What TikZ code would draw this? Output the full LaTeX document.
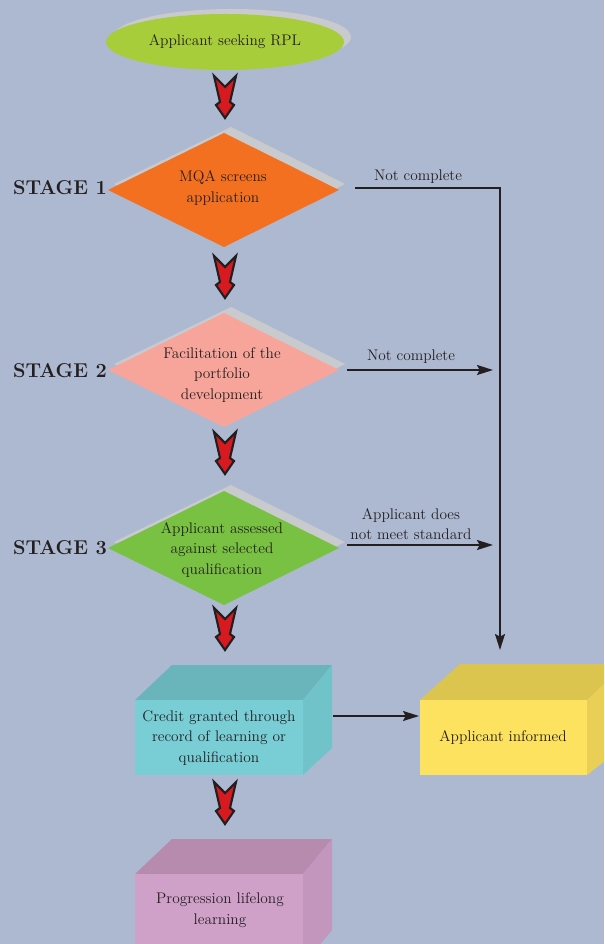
\documentclass[tikz,border=0pt]{standalone}
\usetikzlibrary{arrows.meta}

\definecolor{bgblue}{RGB}{173,185,209}
\definecolor{shadowgray}{RGB}{200,202,205}
\definecolor{ink}{RGB}{35,31,32}
\definecolor{limegreen}{RGB}{168,205,58}
\definecolor{mqaorange}{RGB}{244,112,33}
\definecolor{salmon}{RGB}{247,165,154}
\definecolor{leafgreen}{RGB}{121,193,66}
\definecolor{arrowred}{RGB}{215,25,32}
\definecolor{cyanfront}{RGB}{121,206,213}
\definecolor{cyantop}{RGB}{105,181,187}
\definecolor{cyanside}{RGB}{112,195,201}
\definecolor{yelfront}{RGB}{252,226,95}
\definecolor{yeltop}{RGB}{220,197,79}
\definecolor{yelside}{RGB}{233,207,85}
\definecolor{mauvefront}{RGB}{207,161,201}
\definecolor{mauvetop}{RGB}{183,139,174}
\definecolor{mauveside}{RGB}{194,150,189}

\tikzset{every picture/.style={line width=0.75pt}}
\tikzset{
  txt/.style={text=ink, font=\fontsize{11.5}{15.4}\selectfont, align=center, inner sep=0pt},
  stagelbl/.style={text=ink, font=\fontsize{15}{17}\selectfont\bfseries, inner sep=0pt},
  flow/.style={draw=ink, line width=1.3pt, -{Stealth[length=12pt,width=7.5pt,inset=2pt]}}
}

\begin{document}
\begin{tikzpicture}[x=0.75pt,y=0.75pt,yscale=-1,xscale=1]
	\useasboundingbox (0,0) rectangle (604,944);
	\clip (0,0) rectangle (604,944);
	\fill[bgblue] (0,0) rectangle (604,944);

	%Ellipse with shadow
	\fill[shadowgray] (232,37) ellipse (119 and 28);
	\fill[limegreen] (225,42) ellipse (119 and 28);

	%Diamonds with shadows
	\foreach \cy/\col in {190/mqaorange, 370/salmon, 548/leafgreen}{
		\fill[shadowgray] (231,\cy-63) -- (345,\cy-6) -- (231,\cy+51) -- (114,\cy-6) -- cycle;
		\fill[\col] (224,\cy-57) -- (339,\cy) -- (224,\cy+57) -- (108,\cy) -- cycle;
	}

	%Red arrows
	\foreach \ty in {118,298,474,650,824}{
		\draw[ink, line width=1.6pt, fill=arrowred, line join=miter] (225-11,\ty-42) -- (225,\ty-31) -- (225+11,\ty-42) -- (225+5,\ty-16) -- (225+9,\ty-13) -- (225,\ty) -- (225-9,\ty-13) -- (225-5,\ty-16) -- cycle;
	}

	%Cube: credit
	\fill[cyantop] (135,700) -- (172,665) -- (332,665) -- (303,700) -- cycle;
	\fill[cyanside] (303,700) -- (332,665) -- (332,748) -- (303,775) -- cycle;
	\fill[cyanfront] (135,700) rectangle (303,775);
	%Cube: informed
	\fill[yeltop] (420,700) -- (460,664) -- (625,664) -- (587,700) -- cycle;
	\fill[yelside] (587,700) -- (625,664) -- (625,745) -- (587,775) -- cycle;
	\fill[yelfront] (420,700) rectangle (587,775);
	%Cube: progression
	\fill[mauvetop] (135,874) -- (172,839) -- (332,839) -- (303,874) -- cycle;
	\fill[mauveside] (303,874) -- (332,839) -- (332,930) -- (303,965) -- cycle;
	\fill[mauvefront] (135,874) rectangle (303,965);

	% Text Node
	\node[txt] (seek) at (225,42) {Applicant seeking RPL};
	% Text Node
	\node[txt] (mqa) at (223,188) {MQA screens\\application};
	% Text Node
	\node[txt] (facil) at (222,375) {Facilitation of the\\portfolio\\development};
	% Text Node
	\node[txt] (assess) at (222,550) {Applicant assessed\\against selected\\qualification};
	% Text Node
	\node[txt] (credit) at (219,738) {Credit granted through\\record of learning or\\qualification};
	% Text Node
	\node[txt] (informed) at (503,738) {Applicant informed};
	% Text Node
	\node[txt] (progress) at (220,910) {Progression lifelong\\learning};

	% Stage labels
	\node[stagelbl] (stageone) at (60,188) {STAGE 1};
	\node[stagelbl] (stagetwo) at (60,371) {STAGE 2};
	\node[stagelbl] (stagethree) at (60,548) {STAGE 3};

	%Connector ends
	\coordinate (mqaout) at (355,188);
	\coordinate (corner) at (500,188);
	\coordinate (informedtop) at (500,650);
	\coordinate (facilout) at (347,370);
	\coordinate (facilin) at (493,370);
	\coordinate (assessout) at (347,545);
	\coordinate (assessin) at (493,545);
	\coordinate (creditout) at (333,716);
	\coordinate (informedin) at (419,716);

	%Connectors
	\draw[flow] (mqaout) -- (corner) -- (informedtop);
	\draw[flow] (facilout) -- (facilin);
	\draw[flow] (assessout) -- (assessin);
	\draw[flow] (creditout) -- (informedin);

	% Connector labels
	\node[txt] (ncone) at (418,177) {Not complete};
	\node[txt] (nctwo) at (411,357) {Not complete};
	\node[txt] (notmeet) at (411,524) {Applicant does\\not meet standard};
\end{tikzpicture}
\end{document}
